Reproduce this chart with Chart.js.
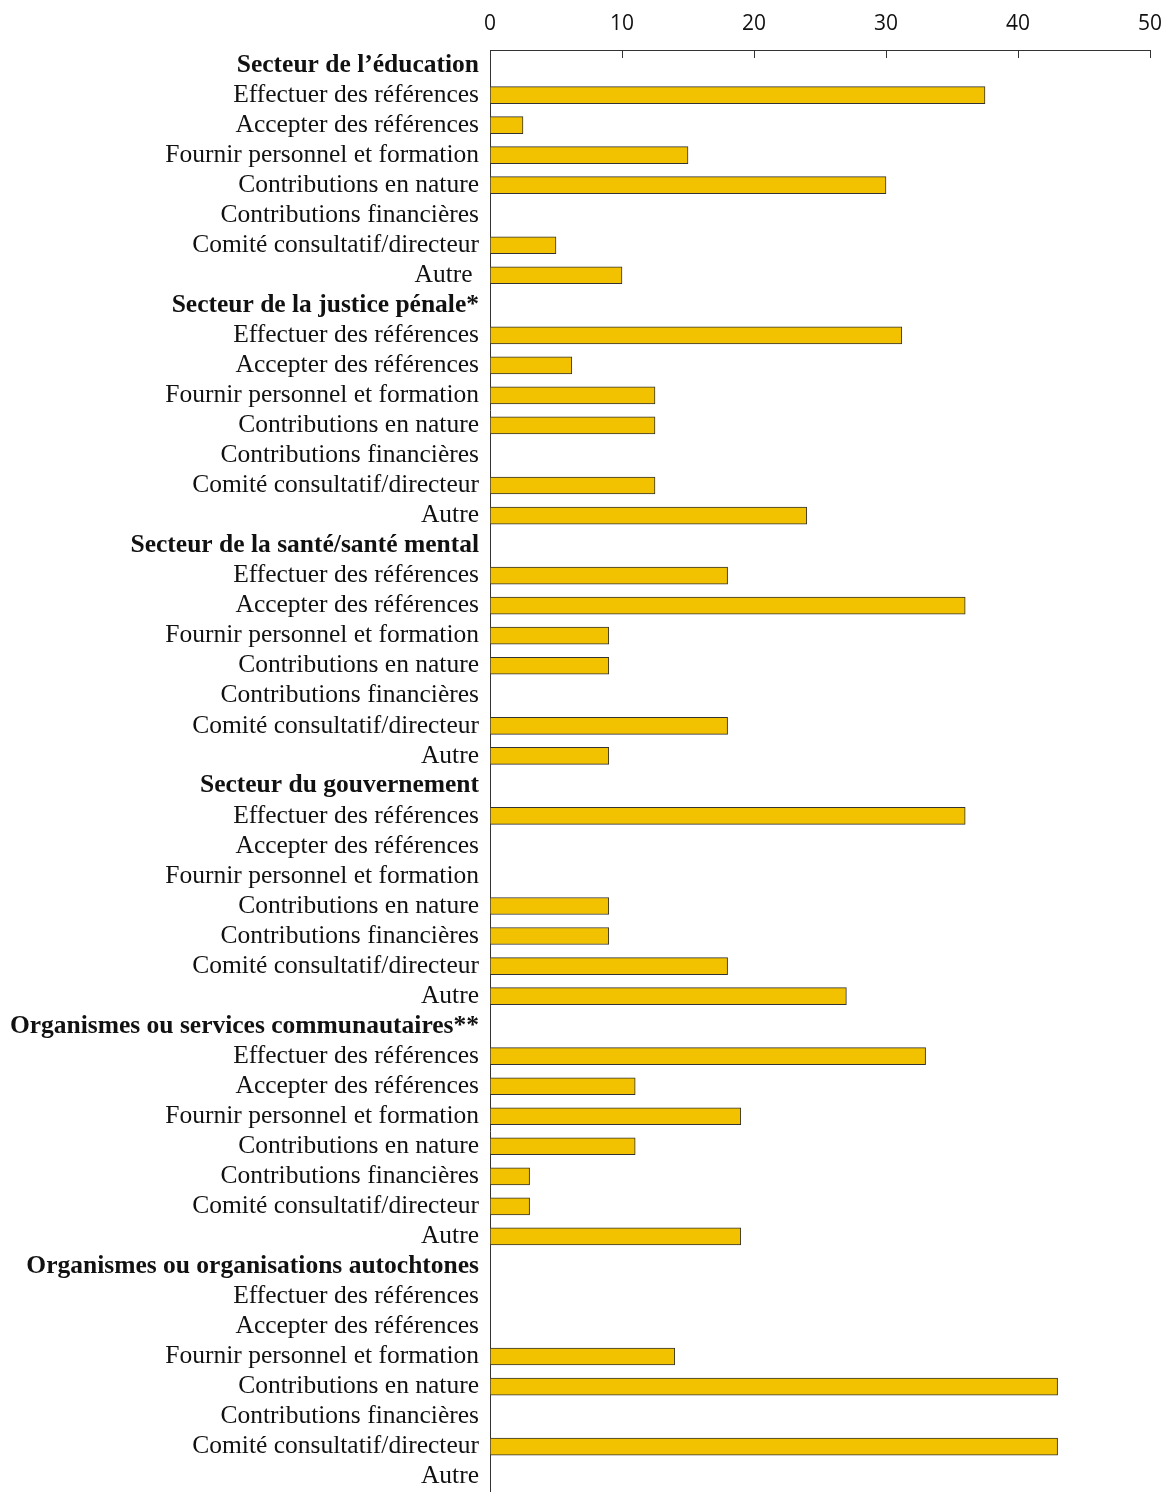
<!DOCTYPE html>
<html>
<head>
<meta charset="utf-8">
<script src="https://cdn.jsdelivr.net/npm/chart.js@4"></script>
<style>
  body { margin: 0; background: #fff; overflow: hidden; }
  #wrap { width: 1175px; height: 1518px; }
</style>
</head>
<body>
<div id="wrap"><canvas id="chart"></canvas></div>
<script>
// sector headers, in order
const sectors = [
  "Secteur de l\u2019\u00e9ducation",
  "Secteur de la justice p\u00e9nale*",
  "Secteur de la sant\u00e9/sant\u00e9 mental",
  "Secteur du gouvernement",
  "Organismes ou services communautaires**",
  "Organismes ou organisations autochtones"
];

// activity labels, repeated under every sector
const items = [
  "Effectuer des r\u00e9f\u00e9rences",
  "Accepter des r\u00e9f\u00e9rences",
  "Fournir personnel et formation",
  "Contributions en nature",
  "Contributions financi\u00e8res",
  "Comit\u00e9 consultatif/directeur",
  "Autre"
];

// values (%) per sector, same order as items
const education   = [37.5, 2.5, 15, 30, 0, 5, 10];
const justice     = [31.2, 6.2, 12.5, 12.5, 0, 12.5, 24];
const sante       = [18, 36, 9, 9, 0, 18, 9];
const gouvernement = [36, 0, 0, 9, 9, 18, 27];
const communautaires = [33, 11, 19, 11, 3, 3, 19];
const autochtones = [0, 0, 14, 43, 0, 43, 0];

const xTicks = [0, 10, 20, 30, 40, 50];

const sectorValues = [education, justice, sante, gouvernement, communautaires, autochtones];

// flatten into one list of rows: header then its items
const labels = [];
const values = [];
const isHeader = [];
sectors.forEach((s, i) => {
  labels.push(s);
  values.push(null);
  isHeader.push(true);
  items.forEach((it, j) => {
    // the first "Autre" has a trailing space in the original
    labels.push(i === 0 && j === 6 ? it + "\u00a0" : it);
    values.push(sectorValues[i][j]);
    isHeader.push(false);
  });
});

// ticks on the top axis point down into the plot
const innerTicks = {
  id: "innerTicks",
  afterDraw(chart) {
    const { ctx, chartArea } = chart;
    const x = chart.scales.x;
    ctx.save();
    ctx.strokeStyle = "#333";
    ctx.lineWidth = 1;
    xTicks.forEach(v => {
      const px = Math.round(x.getPixelForValue(v)) + 0.5;
      ctx.beginPath();
      ctx.moveTo(px, chartArea.top);
      ctx.lineTo(px, chartArea.top + 8);
      ctx.stroke();
    });
    ctx.restore();
  }
};

new Chart(document.getElementById("chart").getContext("2d"), {
  type: "bar",
  data: {
    labels: labels,
    datasets: [{
      data: values,
      backgroundColor: "#f2c200",
      borderColor: "#333",
      borderWidth: 1,
      borderSkipped: false,
      barThickness: 17,
    }]
  },
  options: {
    indexAxis: "y",
    responsive: true,
    maintainAspectRatio: false,
    animation: false,
    layout: { padding: { left: 0, right: 1, top: 0, bottom: 0 } },
    plugins: {
      legend: { display: false },
      tooltip: { enabled: false }
    },
    scales: {
      x: {
        position: "top",
        min: 0,
        max: 50,
        afterBuildTicks: s => { s.ticks = xTicks.map(v => ({ value: v })); },
        afterFit: s => { s.height = 50; },
        grid: { display: false, drawTicks: false },
        border: { display: true, color: "#333", width: 1 },
        ticks: {
          padding: 13,
          color: "#111",
          font: { family: "'Open Sans', 'Liberation Sans', sans-serif", size: 21 }
        }
      },
      y: {
        afterFit: s => { s.width = 490; },
        grid: { display: false, drawTicks: false },
        border: { display: true, color: "#333", width: 1 },
        ticks: {
          autoSkip: false,
          padding: 11,
          color: "#111",
          font: c => ({
            family: "'Liberation Serif', 'DejaVu Serif', serif",
            size: 25.5,
            weight: isHeader[c.index] ? "bold" : "normal"
          })
        }
      }
    }
  },
  plugins: [innerTicks]
});
</script>
</body>
</html>
